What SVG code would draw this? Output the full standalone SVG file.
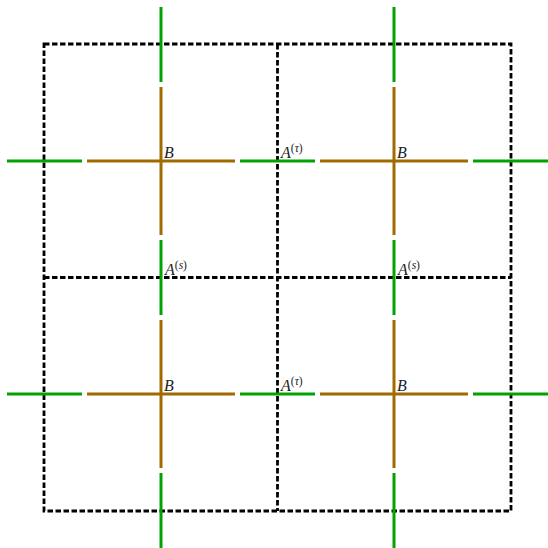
<svg xmlns="http://www.w3.org/2000/svg" width="548" height="548" viewBox="0 0 548 548">
<style>
.g{stroke:#00a300;stroke-width:3;fill:none}
.b{stroke:#a06a00;stroke-width:3;fill:none}
.d{stroke:#000;stroke-width:2.8;fill:none;stroke-dasharray:5.5 2.5}
.t{font-family:"Liberation Serif",serif;font-style:italic;font-size:16px;fill:#222}
.s{font-size:11.5px}
</style>
<rect width="548" height="548" fill="#fff"/>
<g id="grid">
<rect class="d" x="44" y="44" width="467" height="467"/>
<line class="d" x1="277.5" y1="44" x2="277.5" y2="511"/>
<line class="d" x1="44" y1="277.5" x2="511" y2="277.5"/>
</g>
<g id="connectors">
<g id="v1">
<line class="g" x1="161" y1="7" x2="161" y2="82"/>
<line class="b" x1="161" y1="87" x2="161" y2="235"/>
<line class="g" x1="161" y1="240" x2="161" y2="315"/>
<line class="b" x1="161" y1="320" x2="161" y2="468"/>
<line class="g" x1="161" y1="473" x2="161" y2="548"/>
</g>
<g id="v2">
<line class="g" x1="394" y1="7" x2="394" y2="82"/>
<line class="b" x1="394" y1="87" x2="394" y2="235"/>
<line class="g" x1="394" y1="240" x2="394" y2="315"/>
<line class="b" x1="394" y1="320" x2="394" y2="468"/>
<line class="g" x1="394" y1="473" x2="394" y2="548"/>
</g>
<g id="h1">
<line class="g" x1="7" y1="161" x2="82" y2="161"/>
<line class="b" x1="87" y1="161" x2="235" y2="161"/>
<line class="g" x1="240" y1="161" x2="315" y2="161"/>
<line class="b" x1="320" y1="161" x2="468" y2="161"/>
<line class="g" x1="473" y1="161" x2="548" y2="161"/>
</g>
<g id="h2">
<line class="g" x1="7" y1="394" x2="82" y2="394"/>
<line class="b" x1="87" y1="394" x2="235" y2="394"/>
<line class="g" x1="240" y1="394" x2="315" y2="394"/>
<line class="b" x1="320" y1="394" x2="468" y2="394"/>
<line class="g" x1="473" y1="394" x2="548" y2="394"/>
</g>
</g>
<g id="labels">
<text class="t" x="164" y="158">B</text>
<text class="t" x="397" y="158">B</text>
<text class="t" x="164" y="391">B</text>
<text class="t" x="397" y="391">B</text>
<text class="t" x="281" y="158">A<tspan class="s" dy="-6" font-style="normal">(<tspan font-style="italic">τ</tspan>)</tspan></text>
<text class="t" x="281" y="391">A<tspan class="s" dy="-6" font-style="normal">(<tspan font-style="italic">τ</tspan>)</tspan></text>
<text class="t" x="165" y="275">A<tspan class="s" dy="-6" font-style="normal">(<tspan font-style="italic">s</tspan>)</tspan></text>
<text class="t" x="398" y="275">A<tspan class="s" dy="-6" font-style="normal">(<tspan font-style="italic">s</tspan>)</tspan></text>
</g>
</svg>
